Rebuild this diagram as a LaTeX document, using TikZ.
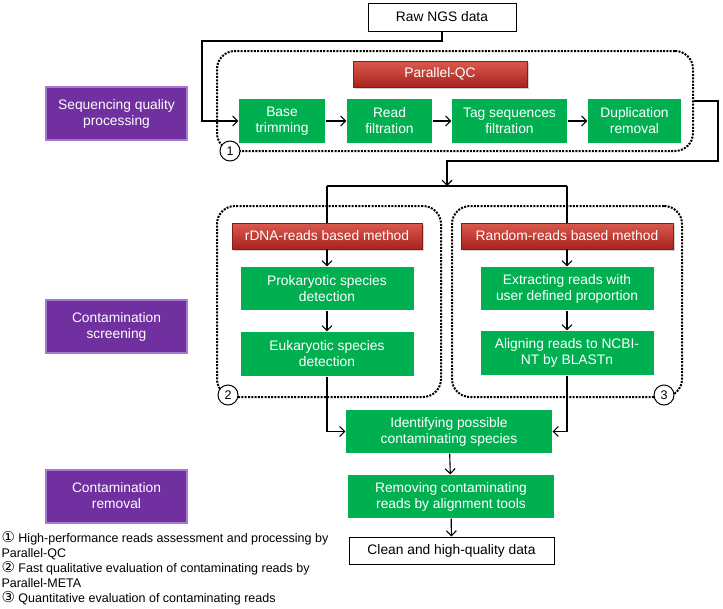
\documentclass[tikz,border=0pt]{standalone}
\usepackage{fontspec}
\setmainfont{Liberation Sans}
\newfontfamily\circfont{DejaVu Sans}
\usetikzlibrary{arrows.meta,shadows}
\definecolor{qcgreen}{HTML}{00B050}
\definecolor{qcpurple}{HTML}{7030A0}
\definecolor{qcpurpleedge}{HTML}{A57BD2}
\definecolor{qcredtop}{HTML}{DA5A4E}
\definecolor{qcredbot}{HTML}{A8231E}
\tikzset{
  greenbox/.style={fill=qcgreen, text=white, align=center, inner sep=0pt,
    font=\fontsize{13.8}{16}\selectfont},
  redbox/.style={top color=qcredtop, bottom color=qcredbot, text=white, inner sep=0pt,
    draw=qcredbot!80!black, line width=0.4pt, font=\fontsize{13.8}{16}\selectfont,
    drop shadow={shadow xshift=1.5pt, shadow yshift=-1.5pt, opacity=0.35}},
  purplebox/.style={fill=qcpurple, draw=qcpurpleedge, line width=2pt, text=white,
    align=center, inner sep=0pt, font=\fontsize{13.8}{16}\selectfont},
  databox/.style={draw, line width=1pt, fill=white, inner sep=0pt,
    font=\fontsize{13.8}{16}\selectfont},
  dotbox/.style={draw, line width=2pt, dash pattern=on 2pt off 1.3pt,
    rounded corners=18pt, inner sep=0pt},
  numcirc/.style={circle, draw, line width=1pt, fill=white, minimum size=20pt,
    inner sep=0pt, font=\fontsize{12.5}{12}\selectfont},
}
\newcommand\notenum[1]{{\circfont\fontsize{15}{15}\selectfont#1}}
\begin{document}
\begin{tikzpicture}[x=1pt, y=-1pt, line width=1.1pt, >={Straight Barb[length=5pt,width=10pt]}]
\useasboundingbox[fill=white] (0,0) rectangle (723,608);
% dotted groups
\node (grp1) [dotbox, minimum width=476pt, minimum height=100pt] at (455,101) {};
\node (grp2) [dotbox, minimum width=224pt, minimum height=191pt] at (329,301.5) {};
\node (grp3) [dotbox, minimum width=230pt, minimum height=191pt] at (567,301.5) {};
% stages on the left
\node (stage1) [purplebox, minimum width=141pt, minimum height=53pt] at (116.5,113.5) {Sequencing quality\\processing};
\node (stage2) [purplebox, minimum width=141pt, minimum height=53pt] at (116.5,326.5) {Contamination\\screening};
\node (stage3) [purplebox, minimum width=141pt, minimum height=53pt] at (116.5,496) {Contamination\\removal};
% input and output
\node (raw) [databox, minimum width=148pt, minimum height=28pt] at (442,17) {Raw NGS data};
\node (clean) [databox, minimum width=205pt, minimum height=27pt] at (451.5,550.5) {Clean and high-quality data};
% quality control
\node (qc) [redbox, minimum width=174pt, minimum height=26pt] at (440,74) {Parallel-QC};
\node (base) [greenbox, minimum width=86pt, minimum height=44pt] at (282,121) {Base\\trimming};
\node (read) [greenbox, minimum width=85pt, minimum height=44pt] at (389.5,121) {Read\\filtration};
\node (tag) [greenbox, minimum width=115pt, minimum height=44pt] at (509.5,121) {Tag sequences\\filtration};
\node (dup) [greenbox, minimum width=93pt, minimum height=44pt] at (634.5,121) {Duplication\\removal};
% screening
\node (rdna) [redbox, minimum width=190pt, minimum height=26pt] at (327,236) {rDNA-reads based method};
\node (rand) [redbox, minimum width=212pt, minimum height=26pt] at (567,236) {Random-reads based method};
\node (prok) [greenbox, minimum width=173pt, minimum height=43pt] at (327,288.5) {Prokaryotic species\\detection};
\node (euk) [greenbox, minimum width=173pt, minimum height=44pt] at (327,354) {Eukaryotic species\\detection};
\node (extr) [greenbox, minimum width=173pt, minimum height=43pt] at (567,288.5) {Extracting reads with\\user defined proportion};
\node (algn) [greenbox, minimum width=173pt, minimum height=44pt] at (567,353) {Aligning reads to NCBI-\\NT by BLASTn};
\node (ident) [greenbox, minimum width=206pt, minimum height=43pt] at (449,431.5) {Identifying possible\\contaminating species};
\node (remov) [greenbox, minimum width=206pt, minimum height=43pt] at (451,496.5) {Removing contaminating\\reads by alignment tools};
% circled numbers
\node (num1) [numcirc] at (230,151) {1};
\node (num2) [numcirc] at (228,395) {2};
\node (num3) [numcirc] at (664,395) {3};
% connectors
\coordinate (c1) at (202,41);
\coordinate (c2) at (718,161);
\coordinate (split) at (447,186);
\draw [->] (raw.south) -- (raw.south |- c1) -- (c1) |- (base.west);
\draw [->] (base) -- (read);
\draw [->] (read) -- (tag);
\draw [->] (tag) -- (dup);
\draw [->] (grp1.east) -| (c2) -| (split);
\draw (rdna.north |- split) -- (rand.north |- split);
\draw (rdna.north |- split) -- (rdna.north);
\draw (rand.north |- split) -- (rand.north);
\draw [->] (rdna) -- (prok);
\draw [->] (prok) -- (euk);
\draw [->] (rand) -- (extr);
\draw [->] (extr) -- (algn);
\draw [->] (euk.south) |- (ident.west);
\draw [->] (algn.south) |- (ident.east);
\draw [->] (ident) -- (remov);
\draw [->] (remov) -- (clean);
% notes
\node (notes) [anchor=north west, align=left, inner sep=0pt, font=\fontsize{12.5}{15}\selectfont] at (1,531)
  {\notenum{①} High-performance reads assessment and processing by\\Parallel-QC\\
   \notenum{②} Fast qualitative evaluation of contaminating reads by\\Parallel-META\\
   \notenum{③} Quantitative evaluation of contaminating reads};
\end{tikzpicture}
\end{document}
